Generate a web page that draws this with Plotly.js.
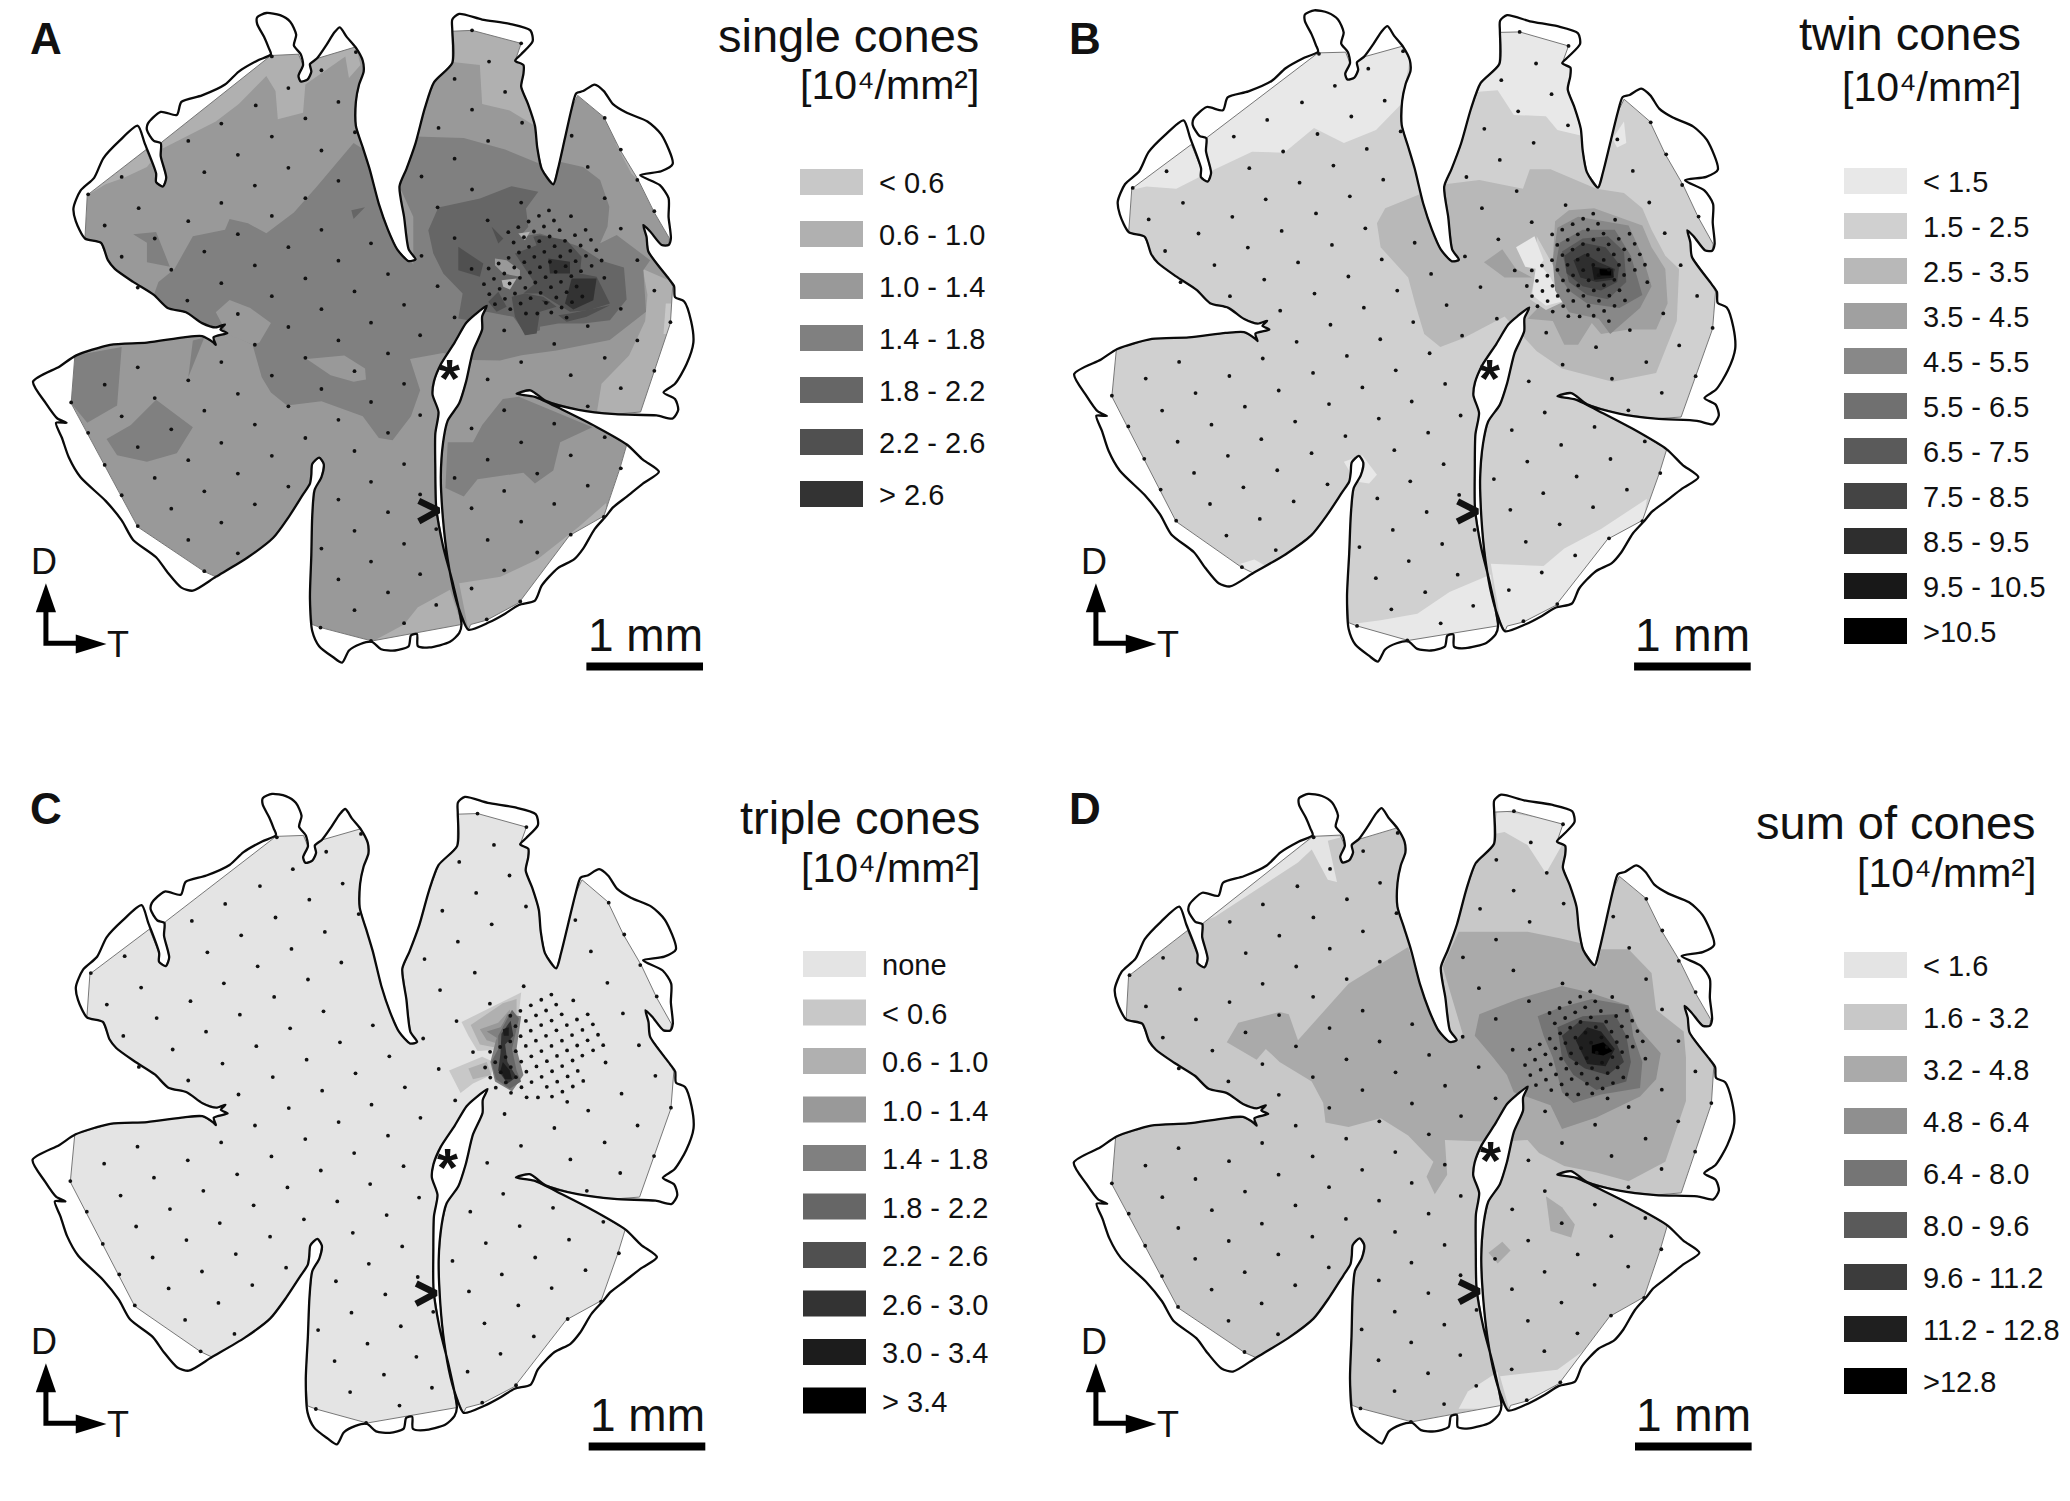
<!DOCTYPE html>
<html>
<head>
<meta charset="utf-8">
<script src="https://cdn.plot.ly/plotly-3.0.1.min.js"></script>
<style>body{margin:0;background:#fff}</style>
</head>
<body>
<div id="chart" style="width:2070px;height:1501px"></div>
<script>
// Retina outline
const outline = [[585,110],[575,85],[560,55],[560,40],[580,30],[610,35],[632,50],[645,80],[640,105],[655,125],[660,150],[650,175],[655,188],[670,183],[678,165],[675,148],[690,135],[710,105],[728,75],[740,63],[755,85],[775,110],[790,140],[792,165],[782,195],[775,235],[775,290],[790,340],[805,390],[825,470],[845,530],[865,575],[890,602],[905,598],[890,575],[880,500],[870,430],[885,390],[905,330],[925,250],[945,190],[985,145],[985,70],[985,45],[1000,32],[1050,45],[1110,55],[1155,70],[1160,95],[1135,125],[1122,140],[1140,150],[1140,170],[1135,200],[1150,240],[1165,290],[1170,340],[1180,390],[1205,425],[1215,390],[1230,320],[1245,250],[1255,215],[1270,210],[1295,195],[1315,210],[1335,240],[1365,260],[1410,280],[1440,310],[1465,378],[1440,395],[1394,404],[1437,427],[1456,457],[1456,500],[1461,550],[1456,565],[1441,565],[1416,534],[1401,519],[1408,546],[1412,580],[1456,642],[1468,660],[1470,685],[1490,695],[1505,740],[1510,790],[1495,840],[1470,885],[1445,905],[1470,920],[1477,945],[1465,965],[1430,958],[1340,955],[1260,945],[1190,925],[1155,900],[1125,908],[1165,915],[1225,945],[1300,985],[1365,1025],[1400,1060],[1435,1088],[1400,1115],[1365,1145],[1335,1170],[1320,1190],[1295,1220],[1270,1265],[1250,1290],[1215,1310],[1180,1350],[1165,1385],[1130,1395],[1100,1415],[1065,1435],[1020,1452],[1005,1420],[990,1370],[975,1290],[965,1200],[960,1100],[965,1020],[975,970],[1000,930],[1015,880],[1030,810],[1050,760],[1050,730],[1060,705],[1035,725],[1015,745],[990,790],[960,840],[945,880],[942,910],[955,950],[948,1000],[948,1080],[950,1170],[965,1260],[985,1340],[1005,1440],[1000,1460],[980,1480],[935,1493],[910,1490],[908,1462],[895,1465],[890,1490],[860,1500],[830,1497],[810,1480],[785,1485],[760,1500],[745,1528],[725,1515],[695,1490],[680,1455],[675,1380],[678,1280],[680,1190],[685,1130],[700,1100],[705,1070],[695,1055],[680,1070],[678,1095],[675,1115],[660,1140],[630,1190],[595,1240],[540,1285],[470,1330],[420,1362],[395,1355],[365,1320],[340,1285],[290,1245],[265,1200],[230,1155],[175,1100],[150,1055],[135,1010],[122,975],[145,975],[125,965],[100,930],[72,880],[130,845],[165,820],[240,795],[320,790],[400,778],[440,775],[465,790],[470,795],[465,778],[495,768],[480,760],[490,748],[470,755],[440,745],[405,720],[365,710],[335,680],[290,650],[250,620],[235,600],[220,560],[185,550],[165,510],[160,480],[175,440],[205,410],[225,365],[260,325],[300,290],[315,330],[340,400],[340,420],[355,430],[362,410],[350,360],[350,330],[335,325],[320,300],[322,285],[350,258],[385,265],[395,235],[440,220],[490,195],[520,165],[560,140],[590,125],[585,110]];

// Edge of the sampled area (thin grey line)
const sampledArea = [[190,450],[318,345],[340,400],[340,420],[355,430],[362,410],[350,360],[352,328],[590,128],[650,125],[660,150],[650,175],[655,188],[670,183],[678,165],[675,148],[690,135],[775,108],[790,140],[792,165],[782,195],[775,235],[775,290],[790,340],[805,390],[825,470],[845,530],[865,575],[890,602],[905,598],[890,575],[880,500],[870,430],[885,390],[905,330],[925,250],[945,190],[985,145],[985,72],[1028,70],[1135,100],[1122,140],[1140,150],[1140,170],[1135,200],[1150,240],[1165,290],[1170,340],[1180,390],[1205,425],[1215,390],[1230,320],[1245,250],[1258,220],[1315,270],[1350,345],[1390,415],[1425,490],[1458,550],[1456,565],[1441,565],[1416,534],[1401,519],[1408,546],[1412,580],[1456,642],[1465,660],[1460,745],[1425,855],[1395,950],[1340,955],[1260,945],[1190,925],[1155,900],[1125,908],[1165,915],[1225,945],[1300,985],[1365,1025],[1350,1080],[1315,1190],[1240,1235],[1130,1390],[1060,1430],[1025,1440],[1020,1452],[1005,1420],[990,1370],[975,1290],[965,1200],[960,1100],[965,1020],[975,970],[1000,930],[1015,880],[1030,810],[1050,760],[1050,730],[1060,705],[1035,725],[1015,745],[990,790],[960,840],[945,880],[942,910],[955,950],[948,1000],[948,1080],[950,1170],[965,1260],[985,1340],[1005,1440],[810,1478],[698,1447],[680,1440],[675,1380],[678,1280],[680,1190],[685,1130],[700,1100],[705,1070],[695,1055],[680,1070],[678,1095],[675,1115],[660,1140],[630,1190],[595,1240],[540,1285],[470,1330],[445,1318],[300,1215],[228,1072],[190,1000],[155,930],[163,820],[240,795],[320,790],[400,778],[440,775],[465,790],[470,795],[465,778],[495,768],[480,760],[490,748],[470,755],[440,745],[405,720],[365,710],[335,680],[290,650],[250,620],[235,600],[220,560],[185,550],[190,450]];

// Sample sites
const sites = [[592,130],[775,120],[700,162],[628,203],[737,235],[557,243],[665,273],[482,285],[773,305],[592,315],[410,325],[700,347],[518,357],[628,387],[445,397],[265,408],[737,417],[555,428],[665,457],[482,468],[192,448],[302,480],[592,498],[410,510],[700,530],[518,540],[228,520],[337,550],[628,570],[808,561],[445,580],[265,592],[737,601],[555,612],[373,622],[845,632],[665,642],[482,653],[300,663],[772,672],[592,683],[408,693],[880,703],[700,713],[518,724],[808,744],[628,754],[915,773],[737,785],[555,795],[845,815],[665,825],[482,835],[772,856],[592,866],[300,847],[410,877],[228,887],[880,885],[700,897],[518,908],[337,918],[155,928],[808,927],[628,937],[445,947],[265,960],[915,957],[737,968],[555,979],[373,990],[192,998],[845,998],[665,1010],[482,1021],[300,1031],[772,1040],[592,1051],[410,1061],[228,1072],[880,1070],[518,1092],[337,1102],[808,1111],[628,1122],[445,1133],[265,1142],[915,1140],[737,1152],[555,1163],[373,1173],[845,1181],[482,1205],[300,1213],[772,1224],[410,1245],[880,1254],[700,1265],[518,1276],[808,1295],[950,1220],[915,1324],[737,1336],[445,1317],[845,1366],[950,1395],[772,1407],[880,1437],[698,1447],[808,1478],[1028,70],[1135,100],[1065,142],[990,182],[1100,212],[1028,253],[1137,283],[955,295],[1063,325],[1245,313],[1317,272],[990,366],[1352,345],[1280,385],[918,407],[1028,437],[1388,415],[1135,467],[1317,457],[1425,487],[953,478],[1062,508],[1352,527],[990,549],[1388,600],[918,590],[1027,620],[1425,670],[953,660],[1460,743],[1352,712],[990,732],[1098,762],[1280,752],[1388,785],[1207,793],[1135,835],[1317,825],[1425,855],[1062,875],[1243,865],[1352,895],[1098,946],[1280,937],[1027,988],[1207,977],[1135,1020],[1317,1008],[1062,1060],[1243,1050],[1352,1080],[990,1102],[1170,1092],[1280,1120],[1098,1132],[1027,1172],[1207,1162],[1315,1192],[1135,1203],[1062,1245],[1243,1233],[1170,1274],[1098,1315],[1027,1357],[1133,1387],[1060,1428]];

const centreSites = [[447,241],[417,257],[462,271],[386,274],[513,258],[432,289],[355,291],[402,304],[479,300],[325,306],[449,319],[525,315],[557,299],[372,321],[418,333],[495,332],[573,329],[341,337],[464,348],[387,350],[542,346],[433,365],[511,362],[589,360],[357,367],[481,379],[558,377],[326,383],[403,380],[296,400],[527,393],[605,391],[373,396],[450,395],[420,411],[497,408],[575,407],[266,415],[343,412],[390,427],[543,423],[467,425],[313,430],[437,441],[360,443],[514,438],[613,443],[282,446],[406,457],[483,455],[329,460],[252,462],[376,473],[453,471],[530,469],[299,476],[422,488],[500,486],[345,490],[268,492],[392,504],[469,502],[547,499],[315,506],[438,518],[362,520],[516,516],[285,522],[331,537],[485,532],[378,550],[412,550],[454,547],[500,562]];

// Density classes and legends
const labelsA = ["< 0.6","0.6 - 1.0","1.0 - 1.4","1.4 - 1.8","1.8 - 2.2","2.2 - 2.6","> 2.6"];
const greysA = ["#c8c8c8","#b0b0b0","#999999","#808080","#666666","#505050","#333333"];
const labelsB = ["< 1.5","1.5 - 2.5","2.5 - 3.5","3.5 - 4.5","4.5 - 5.5","5.5 - 6.5","6.5 - 7.5","7.5 - 8.5","8.5 - 9.5","9.5 - 10.5",">10.5"];
const greysB = ["#e8e8e8","#d0d0d0","#b8b8b8","#a0a0a0","#888888","#707070","#5a5a5a","#444444","#2e2e2e","#181818","#000000"];
const labelsC = ["none","< 0.6","0.6 - 1.0","1.0 - 1.4","1.4 - 1.8","1.8 - 2.2","2.2 - 2.6","2.6 - 3.0","3.0 - 3.4","> 3.4"];
const greysC = ["#e4e4e4","#c8c8c8","#b0b0b0","#999999","#808080","#666666","#505050","#333333","#1c1c1c","#000000"];
const labelsD = ["< 1.6","1.6 - 3.2","3.2 - 4.8","4.8 - 6.4","6.4 - 8.0","8.0 - 9.6","9.6 - 11.2","11.2 - 12.8",">12.8"];
const greysD = ["#e4e4e4","#c8c8c8","#aaaaaa","#8f8f8f","#757575","#5a5a5a","#3c3c3c","#1f1f1f","#000000"];

// Contour areas per panel: [class index, outline of the area]
const areasA = [
  [1,[[190,450],[590,125],[775,105],[785,150],[760,180],[752,130],[665,195],[660,260],[605,275],[600,210],[580,175],[520,240],[470,280],[350,345],[320,385],[270,410],[230,425]]],
  [1,[[980,60],[1140,90],[1180,300],[1110,255],[1050,240],[1045,150],[985,143]]],
  [1,[[1400,620],[1410,680],[1405,740],[1370,820],[1310,885],[1300,950],[1400,955],[1465,740],[1465,650]]],
  [0,[[1450,700],[1462,700],[1462,770],[1445,770]]],
  [1,[[1340,330],[1360,345],[1395,420],[1375,400]]],
  [1,[[1000,1345],[1090,1330],[1170,1290],[1260,1215],[1320,1160],[1320,1195],[1130,1395],[1020,1452]]],
  [1,[[810,1480],[880,1440],[910,1400],[980,1360],[1005,1440]]],
  [3,[[335,680],[345,650],[380,620],[420,545],[490,530],[500,505],[540,515],[580,538],[640,490],[690,430],[770,330],[800,350],[840,500],[900,610],[900,500],[870,430],[905,315],[1010,318],[1100,345],[1170,375],[1219,373],[1270,385],[1307,415],[1327,477],[1323,523],[1307,561],[1343,542],[1416,600],[1401,623],[1407,719],[1328,784],[1212,808],[1136,819],[1089,831],[1030,830],[965,814],[893,828],[915,900],[895,960],[855,1015],[825,1010],[790,960],[700,925],[625,935],[590,905],[570,870],[550,795],[495,768],[470,755],[375,720]]],
  [2,[[470,720],[500,692],[545,710],[590,745],[565,790],[550,795],[495,770]]],
  [2,[[668,828],[750,820],[795,850],[797,875],[770,880],[720,865]]],
  [3,[[975,1020],[1030,1020],[1050,980],[1095,920],[1130,915],[1165,930],[1290,985],[1220,1020],[1205,1085],[1165,1115],[1140,1090],[1040,1105],[1010,1145],[970,1125]]],
  [3,[[163,820],[265,800],[255,935],[190,975],[155,930]]],
  [3,[[420,785],[445,778],[410,870]]],
  [3,[[232,1012],[285,980],[340,922],[420,985],[385,1045],[320,1065],[255,1050]]],
  [3,[[290,540],[340,535],[370,615],[320,605],[320,560]]],
  [4,[[765,485],[795,478],[770,505]]]
];

// Panel A centre, in the coordinates of the closer crop
const centreAreasA = [
  [4,[[85,300],[115,232],[240,205],[335,168],[415,185],[378,235],[385,290],[360,320],[420,310],[540,350],[605,392],[672,412],[680,508],[630,570],[550,580],[475,580],[420,590],[420,600],[380,615],[340,560],[260,545],[205,570],[175,565],[188,490],[130,430],[100,370]]],
  [5,[[175,350],[250,400],[240,440],[175,420]]],
  [5,[[275,290],[310,325],[295,340]]],
  [5,[[345,370],[410,345],[400,320],[420,315],[500,330],[545,380],[540,430],[590,440],[630,520],[565,540],[510,545],[470,520],[420,490],[370,490],[405,460]]],
  [5,[[335,500],[375,490],[430,500],[470,530],[420,545],[410,610],[375,615],[345,560]]],
  [5,[[265,515],[295,485],[320,530],[290,545]]],
  [5,[[475,555],[500,575],[560,560],[630,525],[510,550]]],
  [6,[[445,385],[510,395],[510,430],[450,430]]],
  [6,[[515,445],[590,445],[580,510],[520,538],[495,520]]],
  [6,[[425,510],[450,515],[440,525]]],
  [2,[[285,385],[320,390],[360,420],[360,440],[310,430],[285,405]]],
  [1,[[305,450],[350,445],[330,478],[310,470]]],
  [1,[[355,310],[390,305],[375,330]]]
];

const areasB = [
  [0,[[170,440],[210,430],[275,435],[350,395],[440,350],[510,352],[575,295],[640,330],[710,300],[765,240],[790,100],[585,110],[180,425]]],
  [0,[[925,212],[975,208],[1010,265],[1080,268],[1105,300],[1165,315],[1170,100],[980,60],[960,150]]],
  [0,[[1250,280],[1255,330],[1235,340],[1225,320]]],
  [0,[[640,1065],[680,1050],[712,1095],[695,1115],[665,1110]]],
  [0,[[415,1300],[445,1290],[470,1305],[440,1325]]],
  [0,[[650,1440],[720,1430],[800,1415],[870,1365],[960,1325],[975,1450],[780,1480]]],
  [0,[[960,1300],[1075,1305],[1120,1265],[1200,1220],[1300,1150],[1290,1215],[1105,1395],[1030,1440],[985,1455]]],
  [2,[[712,515],[730,480],[800,450],[860,425],[935,415],[1030,435],[1045,390],[1090,390],[1190,435],[1250,445],[1290,480],[1310,530],[1340,590],[1370,620],[1365,740],[1320,860],[1225,880],[1115,850],[1060,810],[1030,775],[990,730],[900,780],[850,800],[815,770],[795,700],[780,640],[720,570]]],
  [3,[[945,605],[985,575],[1015,620],[1050,640],[990,640]]],
  [3,[[1100,510],[1130,485],[1185,480],[1290,520],[1310,570],[1340,620],[1345,700],[1320,760],[1260,760],[1200,770],[1180,745],[1150,795],[1120,795],[1095,740],[1040,735],[1090,680]]],
  [1,[[1060,545],[1100,620],[1130,690],[1080,715],[1045,690],[1060,620]]],
  [0,[[1015,570],[1055,545],[1075,600],[1060,620],[1035,615]]],
  [0,[[1060,600],[1090,640],[1115,695],[1080,705],[1050,680]]],
  [4,[[1105,525],[1150,500],[1260,520],[1290,590],[1310,660],[1285,710],[1220,770],[1195,735],[1130,720],[1100,670],[1095,600]]],
  [5,[[1110,560],[1160,530],[1230,530],[1265,590],[1290,680],[1240,710],[1170,700],[1130,670],[1100,620]]],
  [6,[[1115,580],[1160,550],[1215,545],[1250,580],[1255,650],[1215,690],[1170,680],[1130,650]]],
  [7,[[1120,590],[1160,560],[1210,570],[1240,610],[1235,650],[1200,670],[1160,660],[1125,630]]],
  [8,[[1140,600],[1165,585],[1195,605],[1230,620],[1225,645],[1190,650],[1155,640]]],
  [9,[[1180,615],[1225,620],[1228,640],[1185,645]]],
  [10,[[1197,620],[1222,622],[1222,635],[1197,635]]]
];

const areasC = [
  [1,[[1005,558],[1060,530],[1135,490],[1130,540],[1100,620],[1040,625],[1020,590]]],
  [1,[[978,670],[1050,638],[1075,650],[1070,680],[1030,700],[1003,722]]],
  [2,[[1025,565],[1095,515],[1125,505],[1125,550],[1095,620],[1045,610]]],
  [2,[[1020,665],[1060,650],[1070,680],[1030,690]]],
  [3,[[1045,575],[1085,560],[1110,530],[1120,560],[1090,610],[1060,600]]],
  [4,[[1060,580],[1090,570],[1105,545],[1115,570],[1090,600]]],
  [4,[[1080,600],[1105,540],[1135,545],[1125,620],[1140,680],[1115,718],[1078,695],[1068,650]]],
  [5,[[1085,590],[1115,530],[1130,550],[1115,620],[1125,670],[1135,695],[1110,712],[1080,690],[1070,650],[1085,620]]],
  [7,[[1092,585],[1112,555],[1118,590],[1100,610],[1105,650],[1125,685],[1105,700],[1085,670],[1090,630]]],
  [8,[[1095,575],[1108,570],[1108,590],[1097,590]]],
  [8,[[1095,650],[1110,670],[1115,690],[1100,690],[1090,670]]]
];

const areasD = [
  [0,[[335,325],[540,160],[575,130],[640,130],[605,140],[625,235],[605,230],[570,160],[540,190],[360,315]]],
  [0,[[975,70],[1125,100],[1115,150],[1080,215],[1040,150],[990,120],[965,125]]],
  [0,[[890,1450],[910,1410],[975,1365],[985,1450]]],
  [0,[[980,1375],[1105,1360],[1170,1310],[1210,1280],[1110,1400],[1030,1440],[1000,1450]]],
  [2,[[385,605],[410,560],[500,535],[520,540],[540,600],[650,470],[780,385],[800,450],[885,605],[900,590],[855,430],[890,350],[960,350],[1040,350],[1110,365],[1170,380],[1190,435],[1200,390],[1260,390],[1310,445],[1320,530],[1380,580],[1385,640],[1385,740],[1340,880],[1260,925],[1190,905],[1120,890],[1065,860],[1040,830],[975,835],[860,830],[865,910],[838,955],[820,915],[835,880],[780,820],[720,780],[650,800],[600,790],[595,745],[570,695],[500,650],[470,620],[450,645]]],
  [2,[[1080,960],[1115,985],[1143,1025],[1135,1055],[1090,1040]]],
  [2,[[955,1090],[985,1065],[1003,1085],[975,1115]]],
  [3,[[925,590],[935,540],[1020,505],[1115,475],[1175,490],[1260,520],[1280,570],[1330,630],[1320,690],[1285,730],[1190,778],[1115,805],[1090,750],[1010,720],[995,680],[965,640]]],
  [4,[[1062,545],[1110,525],[1180,505],[1260,520],[1270,590],[1290,650],[1285,710],[1200,725],[1140,745],[1115,720],[1095,640],[1075,590]]],
  [5,[[1105,570],[1160,545],[1230,540],[1255,590],[1265,650],[1255,695],[1190,715],[1140,680],[1115,640]]],
  [6,[[1115,590],[1155,555],[1205,560],[1235,610],[1250,650],[1215,680],[1165,665],[1130,640]]],
  [7,[[1145,600],[1170,570],[1200,580],[1230,620],[1210,660],[1170,655]]],
  [8,[[1180,612],[1205,605],[1225,625],[1205,635],[1180,630]]]
];

// The arrowhead marking the optic nerve head
const marker = [[912,1155],[955,1177],[912,1202]];

const W = 2070, H = 1501;
const RANGE_X = 1568, RANGE_Y = 1568;

// Panel setup. bend shifts the shared outline to how it sits in that panel.
const panels = [
  {name:"A", ox:0, oy:0, base:2, greys:greysA, labels:labelsA, areas:areasA, bend:[0,0,0,0],
   title:"single cones", titleRight:980, titleY:35, unitY:85, swX:800, swY:182, swStep:52, star:[978,865], letterX:46, letterY:38},
  {name:"B", ox:1050, oy:0, base:1, greys:greysB, labels:labelsB, areas:areasB, bend:[-0.0175,-4,0.022,-19],
   title:"twin cones", titleRight:2022, titleY:34, unitY:87, swX:1844, swY:181, swStep:45, star:[958,865], letterX:1085, letterY:38},
  {name:"C", ox:0, oy:780, base:0, greys:greysC, labels:labelsC, areas:areasC, bend:[-0.016,13,0.012,-5],
   title:"triple cones", titleRight:981, titleY:817, unitY:868, swX:803, swY:964, swStep:48.5, star:[975,885], letterX:46, letterY:808},
  {name:"D", ox:1050, oy:780, base:1, greys:greysD, labels:labelsD, areas:areasD, bend:[-0.003,-17.5,0,2],
   title:"sum of cones", titleRight:2037, titleY:822, unitY:873, swX:1844, swY:965, swStep:52, star:[960,870], letterX:1085, letterY:808}
];

function fromCentreCrop(p) {
  return [871 + 0.726 * p[0], 300 + 0.769 * p[1]];
}

function bent(points, b) {
  return points.map(p => [p[0] + b[0] * p[1] + b[1], p[1] + b[2] * p[0] + b[3]]);
}

function poly(points, color, xa, ya) {
  return {x: points.map(p => p[0]), y: points.map(p => p[1]), xaxis: xa, yaxis: ya, type: "scatter", mode: "lines",
    fill: "toself", fillcolor: color, line: {width: 0}, hoverinfo: "skip", showlegend: false};
}

function stroke(points, color, width, xa, ya, smooth) {
  const line = {color: color, width: width, shape: smooth ? "spline" : "linear"};
  if (smooth) line.smoothing = smooth;
  return {x: points.map(p => p[0]), y: points.map(p => p[1]), xaxis: xa, yaxis: ya, type: "scatter", mode: "lines",
    line: line, hoverinfo: "skip", showlegend: false};
}

const traces = [];
const annotations = [];
const shapes = [];
const layout = {
  width: W, height: H, margin: {l: 0, r: 0, t: 0, b: 0}, paper_bgcolor: "#fff", plot_bgcolor: "rgba(0,0,0,0)",
  showlegend: false, font: {family: "Liberation Sans, Arial, sans-serif", color: "#111"}
};

function text(px, py, str, size, anchor, weight) {
  annotations.push({xref: "paper", yref: "paper", x: px / W, y: 1 - py / H, text: str, showarrow: false,
    xanchor: anchor, yanchor: "middle", font: {size: size, color: "#111", weight: weight || 400}, borderpad: 0});
}

panels.forEach((p, i) => {
  const n = i === 0 ? "" : String(i + 1);
  const xa = "x" + n, ya = "y" + n;
  layout["xaxis" + n] = {domain: [p.ox / W, (p.ox + 720) / W], range: [0, RANGE_X], visible: false, fixedrange: true, anchor: ya};
  layout["yaxis" + n] = {domain: [1 - (p.oy + 680) / H, 1 - p.oy / H], range: [RANGE_Y, 0], visible: false, fixedrange: true, anchor: xa};

  const hull = bent(sampledArea, p.bend);
  traces.push(poly(hull, p.greys[p.base], xa, ya));
  p.areas.forEach(a => traces.push(poly(a[1], p.greys[a[0]], xa, ya)));
  if (p.name === "A") {
    centreAreasA.forEach(a => traces.push(poly(a[1].map(fromCentreCrop), p.greys[a[0]], xa, ya)));
  }

  // white sheet with a hole in the shape of the sampled area, so contours stop at its edge
  const sheet = [[0,0],[0,RANGE_Y],[RANGE_X,RANGE_Y],[RANGE_X,0],[0,0],[null,null]].concat(hull);
  traces.push(poly(sheet, "#ffffff", xa, ya));

  traces.push(stroke(hull, "#777777", 1, xa, ya));
  traces.push(stroke(bent(outline, p.bend), "#0a0a0a", 2.3, xa, ya, 0.7));

  const dots = bent(sites.concat(centreSites.map(fromCentreCrop)), p.bend);
  traces.push({x: dots.map(d => d[0]), y: dots.map(d => d[1]), xaxis: xa, yaxis: ya, type: "scatter", mode: "markers",
    marker: {color: "#111", size: 3.8, line: {width: 0}}, hoverinfo: "skip", showlegend: false});

  // optic nerve marker, orientation arrows, scale bar
  traces.push(stroke(bent(marker, p.bend), "#111", 6.5, xa, ya));
  traces.push(stroke([[100,1400],[100,1483],[170,1483]], "#000", 5, xa, ya));
  traces.push(poly([[100,1345],[78,1412],[122,1412]], "#000", xa, ya));
  traces.push(poly([[232,1485],[165,1463],[165,1507]], "#000", xa, ya));
  const sbShift = p.name === "A" ? 0 : p.name === "B" ? -5 : p.name === "C" ? 5 : -3;
  traces.push(stroke([[1277 + sbShift,1537],[1531 + sbShift,1537]], "#000", 8, xa, ya));

  // text
  text(p.letterX, p.letterY, p.name, 44, "center", 700);
  text(p.titleRight, p.titleY, p.title, 47, "right");
  text(p.titleRight, p.unitY, "[10\u2074/mm\u00b2]", 41, "right");
  text(p.ox + 95 / 2.178, p.oy + 1295 / 2.306, "D", 36, "center");
  text(p.ox + 257 / 2.178, p.oy + 1487 / 2.306, "T", 36, "center");
  text(p.ox + (1405 + sbShift) / 2.178, p.oy + 1465 / 2.306, "1 mm", 46, "center");
  text(p.ox + p.star[0] / 2.178, p.oy + p.star[1] / 2.306 + 3, "*", 54, "center", 700);

  // legend
  p.labels.forEach((lab, k) => {
    const cy = p.swY + k * p.swStep;
    shapes.push({type: "rect", xref: "paper", yref: "paper", x0: p.swX / W, x1: (p.swX + 63) / W,
      y0: 1 - (cy - 13) / H, y1: 1 - (cy + 13) / H, fillcolor: p.greys[k], line: {width: 0}});
    text(p.swX + 78, cy + 1, lab, 29, "left");
  });
});

layout.annotations = annotations;
layout.shapes = shapes;

Plotly.newPlot("chart", traces, layout, {displayModeBar: false, staticPlot: true});
</script>
</body>
</html>
